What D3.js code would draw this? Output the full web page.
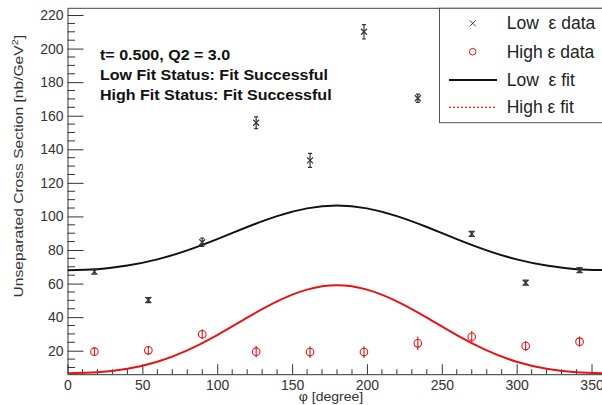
<!DOCTYPE html>
<html><head><meta charset="utf-8">
<script src="https://cdn.jsdelivr.net/npm/d3@7"></script>
<style>
html,body{margin:0;padding:0;background:#fff;}
svg{display:block;font-family:"Liberation Sans",Arial,Helvetica,sans-serif;}
</style></head>
<body>
<svg id="c" width="602" height="405"></svg>
<script>
// ---- data ----
const phiBins = [18, 54, 90, 126, 162, 198, 234, 270, 306, 342];
const lowEpsValues = [67.1, 50.2, 84.6, 155.8, 133.4, 210.0, 170.4, 89.6, 60.5, 68.0];
const lowEpsErrors = [1.5, 1.5, 2.5, 3.5, 4.2, 4.3, 2.5, 1.5, 1.5, 1.5];
const highEpsValues = [19.4, 20.2, 29.8, 19.4, 19.2, 19.2, 24.4, 28.3, 22.8, 25.4];
const highEpsErrors = [2.5, 2.5, 3.0, 3.5, 3.5, 3.5, 4.0, 3.5, 3.0, 3.0];
const fitPhi = [0, 20, 40, 60, 80, 100, 120, 140, 160, 180, 200, 220, 240, 260, 280, 300, 320, 340, 360];
const lowFit = [68.0, 68.6, 70.7, 74.4, 79.8, 86.5, 93.7, 100.2, 104.8, 106.5, 104.8, 100.2, 93.7, 86.5, 79.8, 74.4, 70.7, 68.6, 68.0];
const highFit = [6.5, 7.1, 9.2, 13.4, 20.2, 29.3, 39.7, 49.4, 56.4, 59.0, 56.4, 49.4, 39.7, 29.3, 20.2, 13.4, 9.2, 7.1, 6.5];
const xTicks = [0, 50, 100, 150, 200, 250, 300, 350];
const yTicks = [20, 40, 60, 80, 100, 120, 140, 160, 180, 200, 220];
const infoLines = ["t= 0.500, Q2 = 3.0", "Low Fit Status: Fit Successful", "High Fit Status: Fit Successful"];
const legendLabels = ["Low  ε data", "High ε data", "Low  ε fit", "High ε fit"];

// ---- layout ----
const svg = d3.select("#c");
const x = d3.scaleLinear().domain([0, 360]).range([67.5, 606.5]);
const y = d3.scaleLinear().domain([6, 224]).range([374.2, 8.3]);
const RED = "#e41414";
const INK = "#222";

svg.append("defs").append("clipPath").attr("id", "clip")
  .append("rect").attr("x", x(0)).attr("y", y(224)).attr("width", x(360) - x(0)).attr("height", y(6) - y(224));

// frame top
svg.append("line").attr("x1", x(0)).attr("x2", 602).attr("y1", y(224)).attr("y2", y(224))
  .attr("stroke", "#444").attr("stroke-width", 1);

// y axis
const yAxis = d3.axisLeft(y).tickValues(yTicks).tickSize(-16).tickPadding(4).tickSizeOuter(0);
const gy = svg.append("g").attr("transform", `translate(${x(0)},0)`).call(yAxis);
gy.select(".domain").attr("stroke", "#333");
gy.selectAll(".tick line").attr("stroke", "#333");
gy.selectAll(".tick text").attr("font-size", 14).attr("fill", "#333").attr("font-family", "Liberation Sans, Arial, sans-serif");
const yMinor = d3.range(10, 224, 5).filter(v => v % 20 !== 0);
svg.append("g").selectAll("line").data(yMinor).join("line")
  .attr("x1", x(0)).attr("x2", x(0) + 7.5).attr("y1", d => y(d)).attr("y2", d => y(d))
  .attr("stroke", "#333");

// x axis
const xAxis = d3.axisBottom(x).tickValues(xTicks).tickSize(-10).tickPadding(6).tickSizeOuter(0);
const gx = svg.append("g").attr("transform", `translate(0,${y(6)})`).call(xAxis);
gx.select(".domain").attr("stroke", "#333");
gx.selectAll(".tick line").attr("stroke", "#333");
gx.selectAll(".tick text").attr("font-size", 14).attr("fill", "#333").attr("font-family", "Liberation Sans, Arial, sans-serif");
const xMinor = d3.range(10, 360, 10).filter(v => v % 50 !== 0);
svg.append("g").selectAll("line").data(xMinor).join("line")
  .attr("x1", d => x(d)).attr("x2", d => x(d)).attr("y1", y(6)).attr("y2", y(6) - 5)
  .attr("stroke", "#333");

// axis titles
const yt = svg.append("text").attr("transform", "translate(23,35) rotate(-90) scale(1.2,1)")
  .attr("text-anchor", "end").attr("font-size", 13).attr("fill", "#333");
yt.append("tspan").text("Unseparated Cross Section [nb/GeV");
yt.append("tspan").attr("font-size", 9).attr("dy", -5).text("2");
yt.append("tspan").attr("dy", 5).text("]");
svg.append("text").attr("transform", `translate(${x(176)},400.5) scale(1.08,1)`).attr("text-anchor", "middle")
  .attr("font-size", 13).attr("fill", "#333").text("φ [degree]");

// fit curves
const plot = svg.append("g").attr("clip-path", "url(#clip)");
const line = d3.line().x(d => x(d[0])).y(d => y(d[1])).curve(d3.curveNatural);
plot.append("path").datum(fitPhi.map((p, i) => [p, highFit[i]])).attr("d", line)
  .attr("fill", "none").attr("stroke", RED).attr("stroke-width", 2);
plot.append("path").datum(fitPhi.map((p, i) => [p, lowFit[i]])).attr("d", line)
  .attr("fill", "none").attr("stroke", "#111").attr("stroke-width", 2);

// low eps data: crosses with error bars
const lowG = plot.append("g").selectAll("g").data(phiBins.map((p, i) => ({p, v: lowEpsValues[i], e: lowEpsErrors[i]})))
  .join("g").attr("transform", d => `translate(${x(d.p)},${y(d.v)})`).attr("stroke", "#333").attr("stroke-width", 1.2);
lowG.append("line").attr("x1", 0).attr("x2", 0).attr("y1", d => y(d.v + d.e) - y(d.v)).attr("y2", d => y(d.v - d.e) - y(d.v));
lowG.append("line").attr("x1", -2).attr("x2", 2).attr("y1", d => y(d.v + d.e) - y(d.v)).attr("y2", d => y(d.v + d.e) - y(d.v));
lowG.append("line").attr("x1", -2).attr("x2", 2).attr("y1", d => y(d.v - d.e) - y(d.v)).attr("y2", d => y(d.v - d.e) - y(d.v));
lowG.append("path").attr("d", "M-3,-3L3,3M-3,3L3,-3");

// high eps data: open circles with error bars
const highG = plot.append("g").selectAll("g").data(phiBins.map((p, i) => ({p, v: highEpsValues[i], e: highEpsErrors[i]})))
  .join("g").attr("transform", d => `translate(${x(d.p)},${y(d.v)})`).attr("stroke", RED).attr("stroke-width", 1.1).attr("fill", "none");
highG.append("line").attr("x1", 0).attr("x2", 0).attr("y1", d => y(d.v + d.e) - y(d.v)).attr("y2", d => y(d.v - d.e) - y(d.v));
highG.append("circle").attr("r", 3.8);

// info text
svg.append("g").attr("transform", "translate(100,0) scale(1.146,1)")
  .selectAll("text").data(infoLines).join("text")
  .attr("x", 0).attr("y", (d, i) => 60 + i * 20)
  .attr("font-size", 14).attr("font-weight", "bold").attr("fill", "#111").text(d => d);

// legend
const lg = svg.append("g");
lg.append("rect").attr("x", 439.5).attr("y", y(224)).attr("width", 170).attr("height", 122.7 - y(224))
  .attr("fill", "#fff").attr("stroke", "#555").attr("stroke-width", 1);
const rows = [23.3, 51.7, 80, 107.3];
lg.append("path").attr("d", `M${472.7-3},${rows[0]-3}l6,6M${472.7-3},${rows[0]+3}l6,-6`).attr("stroke", "#444").attr("stroke-width", 1);
lg.append("circle").attr("cx", 472.7).attr("cy", rows[1]).attr("r", 3.3).attr("fill", "none").attr("stroke", RED).attr("stroke-width", 1);
lg.append("line").attr("x1", 449).attr("x2", 497).attr("y1", rows[2]).attr("y2", rows[2]).attr("stroke", "#111").attr("stroke-width", 2);
lg.append("line").attr("x1", 449).attr("x2", 497).attr("y1", rows[3]).attr("y2", rows[3]).attr("stroke", RED).attr("stroke-width", 1.3).attr("stroke-dasharray", "2,2");
lg.selectAll("text.lab").data(legendLabels).join("text").attr("class", "lab")
  .attr("x", 506.7).attr("y", (d, i) => rows[i] + 6).attr("font-size", 17.5).attr("fill", INK)
  .style("white-space", "pre").text(d => d);
</script>
</body></html>
